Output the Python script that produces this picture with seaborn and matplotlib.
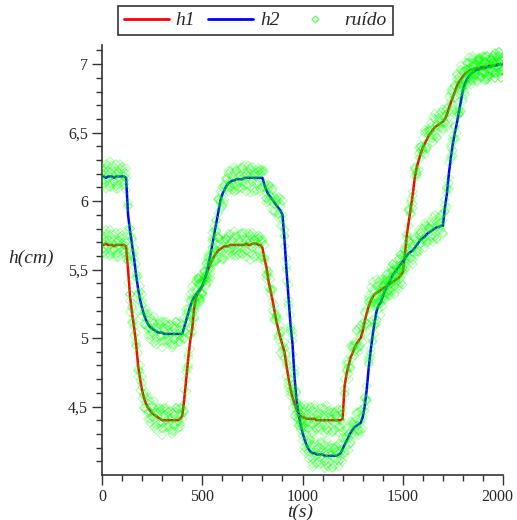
#!/usr/bin/env python3
"""Niveles h1 y h2 de dos tanques con la señal de ruido superpuesta."""

import matplotlib.pyplot as plt
import numpy as np
import seaborn as sns
from matplotlib.lines import Line2D
from matplotlib.ticker import FuncFormatter, MultipleLocator

# tiempo de muestreo (s)
T = np.arange(0, 2001, 10)

# nivel h1 (cm), un valor cada 10 s
H1 = [
    5.68, 5.68, 5.69, 5.68, 5.68, 5.68, 5.67, 5.68, 5.68, 5.68,
    5.68, 5.68, 5.67, 5.50, 5.30, 5.18, 5.08, 4.96, 4.80, 4.70,
    4.62, 4.56, 4.52, 4.49, 4.47, 4.45, 4.44, 4.43, 4.42, 4.41,
    4.40, 4.40, 4.40, 4.40, 4.40, 4.40, 4.40, 4.40, 4.40, 4.41,
    4.43, 4.55, 4.70, 4.85, 4.98, 5.07, 5.22, 5.30, 5.33, 5.35,
    5.38, 5.42, 5.46, 5.50, 5.54, 5.57, 5.60, 5.62, 5.64, 5.65,
    5.66, 5.67, 5.67, 5.67, 5.68, 5.68, 5.68, 5.68, 5.68, 5.68,
    5.68, 5.68, 5.69, 5.68, 5.68, 5.69, 5.69, 5.69, 5.68, 5.68,
    5.66, 5.58, 5.52, 5.42, 5.35, 5.28, 5.20, 5.12, 5.06, 5.00,
    4.95, 4.90, 4.80, 4.71, 4.63, 4.57, 4.52, 4.48, 4.45, 4.43,
    4.42, 4.42, 4.41, 4.41, 4.41, 4.41, 4.41, 4.40, 4.40, 4.40,
    4.40, 4.40, 4.40, 4.40, 4.40, 4.40, 4.40, 4.40, 4.40, 4.40,
    4.41, 4.65, 4.74, 4.80, 4.86, 4.89, 4.93, 4.96, 4.98, 5.00,
    5.05, 5.12, 5.18, 5.23, 5.27, 5.30, 5.32, 5.33, 5.34, 5.35,
    5.36, 5.37, 5.38, 5.39, 5.40, 5.41, 5.42, 5.43, 5.44, 5.46,
    5.48, 5.60, 5.75, 5.85, 5.95, 6.05, 6.17, 6.25, 6.30, 6.35,
    6.39, 6.42, 6.45, 6.48, 6.50, 6.52, 6.54, 6.55, 6.56, 6.57,
    6.58, 6.60, 6.63, 6.68, 6.72, 6.76, 6.80, 6.84, 6.87, 6.89,
    6.91, 6.93, 6.94, 6.95, 6.96, 6.96, 6.97, 6.97, 6.97, 6.98,
    6.98, 6.98, 6.98, 6.99, 6.99, 6.99, 6.99, 7.00, 7.00, 7.00,
    7.00,
]

# nivel h2 (cm), un valor cada 10 s
H2 = [
    6.18, 6.18, 6.17, 6.18, 6.18, 6.18, 6.17, 6.18, 6.18, 6.18,
    6.18, 6.18, 6.17, 5.90, 5.78, 5.68, 5.58, 5.46, 5.36, 5.28,
    5.22, 5.17, 5.13, 5.10, 5.08, 5.07, 5.06, 5.05, 5.04, 5.04,
    5.04, 5.03, 5.03, 5.03, 5.03, 5.03, 5.03, 5.03, 5.03, 5.03,
    5.03, 5.08, 5.13, 5.18, 5.23, 5.27, 5.30, 5.32, 5.34, 5.36,
    5.38, 5.42, 5.47, 5.53, 5.60, 5.68, 5.76, 5.84, 5.92, 6.00,
    6.05, 6.08, 6.11, 6.13, 6.14, 6.15, 6.15, 6.16, 6.16, 6.16,
    6.16, 6.17, 6.17, 6.17, 6.17, 6.17, 6.17, 6.17, 6.17, 6.17,
    6.17, 6.12, 6.08, 6.05, 6.03, 6.01, 5.99, 5.97, 5.95, 5.93,
    5.90, 5.72, 5.50, 5.30, 5.10, 4.96, 4.72, 4.55, 4.45, 4.37,
    4.31, 4.26, 4.22, 4.19, 4.17, 4.16, 4.16, 4.15, 4.15, 4.15,
    4.15, 4.14, 4.14, 4.14, 4.14, 4.14, 4.14, 4.14, 4.15, 4.16,
    4.19, 4.22, 4.25, 4.28, 4.31, 4.33, 4.35, 4.36, 4.37, 4.38,
    4.42, 4.50, 4.62, 4.78, 4.91, 5.02, 5.12, 5.20, 5.24, 5.26,
    5.30, 5.34, 5.37, 5.40, 5.43, 5.46, 5.48, 5.50, 5.52, 5.54,
    5.56, 5.58, 5.60, 5.62, 5.63, 5.64, 5.66, 5.68, 5.70, 5.72,
    5.73, 5.74, 5.76, 5.77, 5.78, 5.79, 5.80, 5.81, 5.81, 5.82,
    5.82, 5.95, 6.05, 6.20, 6.32, 6.42, 6.50, 6.57, 6.65, 6.73,
    6.81, 6.86, 6.89, 6.91, 6.93, 6.94, 6.95, 6.96, 6.96, 6.97,
    6.97, 6.97, 6.98, 6.98, 6.98, 6.99, 6.99, 6.99, 7.00, 7.00,
    7.00,
]

# ruido de medida (centésimas de cm): cuatro lecturas por instante
RUIDO_A = [
    3, -5, 7, 1, -8, 4, -2, 9, -6, 0, 5, -3, -9, 6, 2, -7, 8, -1, -4, 10,
    -6, 3, 1, -8, 7, -2, 5, -10, 4, -3, 8, -5, 0, 6, -7, 2, -4, 9, -1, -6,
    3, 7, -9, 1, 5, -3, -8, 4, 10, -2, -5, 6, -1, 8, -7, 3, -4, 2, 9, -6,
    1, -9, 5, 7, -3, -2, 6, -8, 4, 0, -7, 9, 2, -5, 3, 8, -10, 1, -4, 6,
    5, -2, -6, 7, 0, -8, 4, 3, -5, 9, -3, 2, 8, -7, -1, 6, -9, 5, 1, -4,
    7, -6, 3, -2, 9, -8, 0, 4, -5, 2, -1, 8, -7, 5, 3, -9, 6, -3, 1, 7,
    -4, -6, 9, 2, -8, 4, -2, 10, -5, 0, 6, -3, -7, 8, 1, -5, 3, -9, 7, -1,
    2, 5, -4, -8, 9, 0, -6, 3, 6, -2, -9, 7, 1, -3, 4, -7, 8, -5, 2, 5,
    -1, -8, 6, 3, -4, 9, -6, 0, 7, -3, 4, -2, -9, 8, 1, -5, 5, -7, 3, 10,
    -6, 2, 7, -1, -8, 4, -3, 6, -5, 1, 8, -4, 0, -7, 5, 3, -9, 2, 6, -2,
    -5,
]
RUIDO_B = [
    -4, 6, -1, 8, -7, 2, 5, -9, 3, -2, 7, -5, 0, 9, -3, -6, 4, 1, -8, 6,
    2, -7, 8, -4, -1, 5, -9, 3, 7, -2, -6, 4, 9, -5, 1, -8, 6, -3, 0, 8,
    -2, -9, 5, 3, -6, 7, -1, -4, 10, -7, 4, 1, -8, 6, -3, 9, -5, 2, -1, 7,
    -9, 3, 5, -6, 8, 0, -4, 6, -7, 2, 9, -3, -5, 1, 7, -8, 3, -2, 5, -10,
    6, 0, -6, 4, 8, -1, -7, 5, -4, 3, -8, 7, 2, -5, -3, 9, 1, -6, 4, -1,
    5, -9, 8, 0, -4, 6, -2, -7, 3, 9, -3, 2, -6, 7, 1, -8, 5, 4, -9, 0,
    8, -5, 3, -1, -7, 6, 2, -4, 9, -6, 1, 7, -8, 4, -2, 5, -9, 10, -3, 2,
    -7, 3, 6, -5, 0, 8, -4, 1, -6, 7, 4, -8, -2, 9, -5, 2, 6, -3, -7, 5,
    -1, 8, -6, 3, 7, -4, 0, -9, 5, 2, 9, -3, 4, -7, -1, 6, -5, 8, 1, -8,
    3, -6, 7, 0, -4, 5, -2, -9, 6, 4, -3, 8, -7, 2, 1, -5, 9, -1, -6, 3,
    5,
]
RUIDO_C = [
    6, -2, -8, 4, 11, -5, 1, -7, 3, 9, -4, 0, 7, -10, 2, 5, -6, 8, -3, -1,
    10, -7, 4, -2, -9, 6, 1, -5, 3, 8, -11, 2, 7, -4, 0, 5, -8, 9, -6, 3,
    1, -3, 8, -7, 4, 11, -2, -5, 6, -9, 2, 7, -4, 0, -10, 5, 3, -6, 9, -1,
    -8, 4, 6, -3, 1, -7, 10, -5, 2, 8, -2, -6, 3, 9, -11, 0, 5, -4, 7, -8,
    4, 1, -9, 6, -3, 8, -1, 2, -7, 5, 10, -5, 0, -2, 7, -8, 3, 6, -4, 1,
    -6, 9, -3, 4, 2, -10, 8, -1, 5, -7, 3, -4, 11, -8, 0, 6, -2, 7, -5, 1,
    -9, 5, 2, -6, 8, -3, 4, 0, -8, 9, -1, 6, -7, 3, 10, -4, -2, 5, 1, -9,
    7, -5, 4, 0, -3, 8, -10, 2, 6, -6, 1, 3, -8, 9, -4, -1, 7, -7, 5, 2,
    -3, 10, -5, 0, 4, -9, 6, 1, -2, 8, -6, 2, 5, -11, 7, 3, -4, 9, -1, -7,
    4, -8, 0, 6, -2, 10, -5, 3, 7, -3, 1, -9, 8, -4, 5, 2, -6, 0, 9, -5,
    3,
]
RUIDO_D = [
    -7, 4, 10, -1, -5, 8, -3, 2, -9, 6, 1, -6, 3, 7, -11, 4, 0, -2, 9, -8,
    5, 2, -4, 8, -6, -3, 10, -7, 1, 6, -2, 9, -5, 3, 7, -10, 4, -1, 8, -4,
    6, -8, 0, -5, 9, 2, -7, 11, -3, 4, -6, 3, 8, -9, 1, -2, 6, -5, 10, 0,
    5, -7, -1, 9, -4, 3, -8, 7, -2, -6, 8, 1, -10, 4, 6, -3, 2, -9, 5, 3,
    -7, 10, -2, -5, 1, 7, -6, 4, 8, -11, 0, 3, -8, 9, -5, 2, 6, -3, -9, 7,
    -2, 4, 1, -7, 8, -4, 10, -6, 0, 5, 9, -9, -3, 2, 6, -1, -7, 3, 8, -5,
    4, -2, 7, -10, 1, 5, -6, 9, -4, 2, -8, 0, 3, 6, -5, 11, -3, -7, 4, 8,
    -1, -6, 9, 2, -9, 4, 5, -2, -8, 7, 3, -4, 0, 8, 6, -10, 1, -5, 9, -3,
    7, -1, -7, 4, 2, -6, 10, -8, 3, 0, -5, 6, 1, -3, 9, -9, 4, 5, -2, 7,
    -8, 2, -4, 10, 0, -6, 3, -1, 8, -7, 5, 4, -9, 1, -3, 7, -5, 6, 2, -10,
    -4,
]

X_TICKS = [0, 500, 1000, 1500, 2000]
Y_TICKS = [4.5, 5, 5.5, 6, 6.5, 7]

RED = "#ff0000"
BLUE = "#0000ff"
GREEN = "#00ff00"
AXIS = "#333333"
SERIF = "Liberation Serif"

sns.set_style("white")
plt.rcParams["font.family"] = [SERIF, "DejaVu Serif"]


def comma(value, _pos):
    return f"{value:g}".replace(".", ",")


def main() -> None:
    fig = plt.figure(figsize=(5.17, 5.20), dpi=100)
    # bottom of the axes sits at y = 4.0 and the top at about 7.14
    ax = fig.add_axes([102 / 517, 1 - 475 / 520, 401 / 517, 430 / 520])

    sns.lineplot(x=T, y=H1, color=RED, linewidth=1.8, ax=ax, zorder=2)
    sns.lineplot(x=T, y=H2, color=BLUE, linewidth=1.8, ax=ax, zorder=2)

    readings = {
        "h1": (H1, [RUIDO_A, RUIDO_B, RUIDO_C, RUIDO_D]),
        "h2": (H2, [RUIDO_C, RUIDO_D, RUIDO_A, RUIDO_B]),
    }
    for h, lists in readings.values():
        for ruido in lists:
            noisy = np.asarray(h) + np.asarray(ruido) / 100
            sns.scatterplot(
                x=T, y=noisy, marker="D", s=20, color=GREEN,
                facecolor="none", edgecolor=GREEN, linewidth=0.8,
                alpha=0.3, ax=ax, zorder=3,
            )

    ax.set_xlim(0, 2000)
    ax.set_ylim(4.0, 7.14)
    ax.set_xticks(X_TICKS)
    ax.set_xticklabels([])
    ax.xaxis.set_minor_locator(MultipleLocator(100))
    ax.set_yticks(Y_TICKS)
    ax.set_yticks(np.arange(4.1, 7.15, 0.1), minor=True)
    ax.yaxis.set_major_formatter(FuncFormatter(comma))
    ax.tick_params(which="both", direction="out", color=AXIS, width=1.0, labelsize=11.5)
    ax.tick_params(which="major", length=7)
    ax.tick_params(which="minor", length=4)
    ax.tick_params(axis="y", which="both", left=True, pad=3)
    ax.tick_params(axis="x", which="both", bottom=True)

    # x labels written by hand so that "2000" stays inside the picture
    for value in X_TICKS:
        shift = -4 if value == X_TICKS[-1] else 0
        ax.annotate(
            comma(value, None), xy=(value, 0), xycoords=("data", "axes fraction"),
            xytext=(shift, -10), textcoords="offset points",
            ha="center", va="top", fontsize=11.5, annotation_clip=False,
        )

    for side in ("top", "right"):
        ax.spines[side].set_visible(False)
    for side in ("left", "bottom"):
        ax.spines[side].set_color(AXIS)
        ax.spines[side].set_linewidth(1.2)
    ax.set_xlabel("")
    ax.set_ylabel("")

    fig.text(8 / 517, 1 - 258 / 520, "h(cm)", style="italic", fontsize=14, va="center", ha="left")
    fig.text(300 / 517, 1 - 512 / 520, "t(s)", style="italic", fontsize=14, va="center", ha="center")

    handles = [
        Line2D([], [], color=RED, linewidth=2),
        Line2D([], [], color=BLUE, linewidth=2),
        Line2D([], [], marker="D", linestyle="none", markersize=3.5,
               markerfacecolor="none", markeredgecolor=GREEN, alpha=0.6),
    ]
    leg = fig.legend(
        handles, ["h1", "h2", "ruído"],
        loc="upper left", bbox_to_anchor=(118 / 517, 1 - 6 / 520),
        ncol=3, frameon=True, fancybox=False, edgecolor="black",
        prop={"family": SERIF, "style": "italic", "size": 14},
        handlelength=2.3, handletextpad=0.35, columnspacing=0.7,
        borderpad=0.3, borderaxespad=0,
    )
    leg.get_frame().set_linewidth(1.2)

    fig.savefig("out.png", dpi=100, facecolor="white")
    plt.close(fig)


if __name__ == "__main__":
    main()
